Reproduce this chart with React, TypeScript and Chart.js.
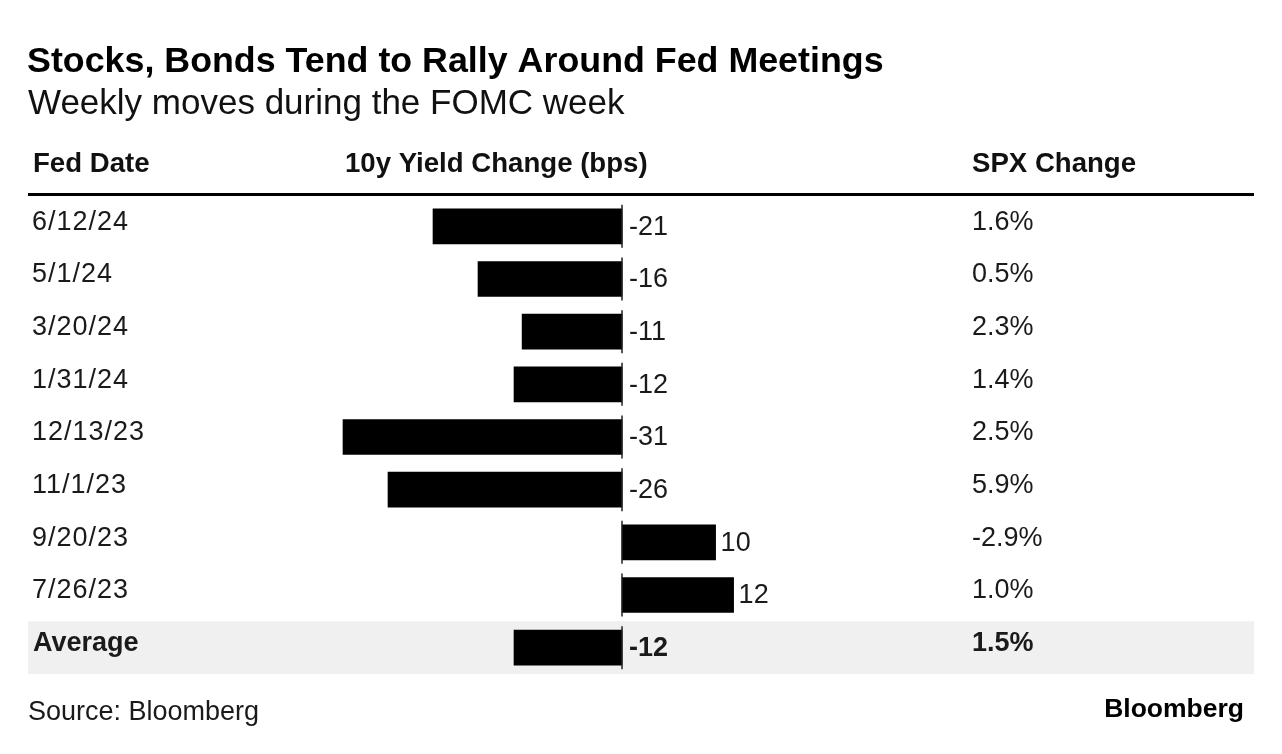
import React, { useEffect, useRef } from "react";
import { Chart, registerables } from "chart.js";

Chart.register(...registerables);

const fedDates = ["6/12/24", "5/1/24", "3/20/24", "1/31/24", "12/13/23", "11/1/23", "9/20/23", "7/26/23", "Average"];
const yieldChangeBps = [-21, -16, -11.1, -12, -31, -26, 10.4, 12.4, -12];
const spxChangePct = [1.6, 0.5, 2.3, 1.4, 2.5, 5.9, -2.9, 1.0, 1.5];
const columnHeaders = ["Fed Date", "10y Yield Change (bps)", "SPX Change"];
const titleText = "Stocks, Bonds Tend to Rally Around Fed Meetings";
const subtitleText = "Weekly moves during the FOMC week";
const sourceText = "Source: Bloomberg";
const brandText = "Bloomberg";

const FONT = "'Liberation Sans', Arial, Helvetica, sans-serif";

const tablePlugin = {
  id: "tablePlugin",
  beforeDatasetsDraw(chart: any) {
    const { ctx, chartArea, scales } = chart;
    const y = scales.y;
    const last = fedDates.length - 1;
    const c = y.getPixelForValue(last);
    const half = (y.getPixelForValue(1) - y.getPixelForValue(0)) / 2;
    ctx.save();
    ctx.fillStyle = "#f0f0f0";
    ctx.fillRect(chartArea.left, c - half, chartArea.right - chartArea.left, half * 2);
    ctx.restore();
  },
  afterDatasetsDraw(chart: any) {
    const { ctx, chartArea, scales } = chart;
    const x = scales.x;
    const y = scales.y;
    const x0 = x.getPixelForValue(0);
    ctx.save();
    // zero line segments
    ctx.strokeStyle = "#222";
    ctx.lineWidth = 1.5;
    fedDates.forEach((_, i) => {
      const c = y.getPixelForValue(i);
      ctx.beginPath();
      ctx.moveTo(x0, c - 21.5);
      ctx.lineTo(x0, c + 21.5);
      ctx.stroke();
    });
    // header line
    ctx.fillStyle = "#000";
    ctx.fillRect(chartArea.left, 193, chartArea.right - chartArea.left, 3);

    ctx.textBaseline = "middle";
    ctx.textAlign = "left";
    // title
    ctx.fillStyle = "#000";
    ctx.font = `bold 35.8px ${FONT}`;
    ctx.fillText(titleText, 27, 62);
    ctx.fillStyle = "#111";
    ctx.font = `35px ${FONT}`;
    ctx.fillText(subtitleText, 28, 104);
    // headers
    ctx.fillStyle = "#111";
    ctx.font = `bold 27.6px ${FONT}`;
    ctx.fillText(columnHeaders[0], 33, 164);
    ctx.fillText(columnHeaders[1], 345, 164);
    ctx.fillText(columnHeaders[2], 972, 164);

    fedDates.forEach((d, i) => {
      const c = y.getPixelForValue(i);
      const isAvg = i === fedDates.length - 1;
      ctx.fillStyle = "#1a1a1a";
      ctx.font = `${isAvg ? "bold " : ""}27px ${FONT}`;
      if (!isAvg) (ctx as any).letterSpacing = "1px";
      ctx.fillText(d, isAvg ? 33 : 32, c - 4);
      (ctx as any).letterSpacing = "0px";
      ctx.fillText(spxChangePct[i].toFixed(1) + "%", 972, c - 4);
      const v = yieldChangeBps[i];
      const lbl = String(Math.round(v));
      const lx = v < 0 ? x0 + 7 : x.getPixelForValue(v) + 5;
      ctx.fillText(lbl, lx, c + 1);
    });

    // footer
    ctx.fillStyle = "#1a1a1a";
    ctx.font = `27px ${FONT}`;
    ctx.fillText(sourceText, 28, 713);
    ctx.textAlign = "right";
    ctx.fillStyle = "#000";
    ctx.font = `bold 26.5px ${FONT}`;
    ctx.fillText(brandText, 1244, 710);
    ctx.restore();
  },
};

export default function App() {
  const ref = useRef<HTMLCanvasElement | null>(null);
  useEffect(() => {
    document.body.style.margin = "0";
    const canvas = ref.current;
    if (!canvas) return;
    const chart = new Chart(canvas, {
      type: "bar",
      data: {
        labels: fedDates,
        datasets: [
          {
            data: yieldChangeBps,
            backgroundColor: "#000",
            borderWidth: 0,
            barThickness: 35,
          },
        ],
      },
      options: {
        indexAxis: "y",
        animation: false,
        responsive: false,
        devicePixelRatio: 1,
        layout: { padding: { left: 28, right: 28, top: 200, bottom: 80 } },
        scales: {
          x: { display: false, min: -66, max: 70.22, grid: { display: false } },
          y: { display: false, grid: { display: false } },
        },
        plugins: {
          legend: { display: false },
          tooltip: { enabled: false },
          title: { display: false },
        },
      },
      plugins: [tablePlugin],
    });
    return () => chart.destroy();
  }, []);
  return (
    <div style={{ position: "fixed", left: 0, top: 0, width: 1282, height: 754, background: "#fff" }}>
      <canvas ref={ref} width={1282} height={754} style={{ display: "block" }} />
    </div>
  );
}
